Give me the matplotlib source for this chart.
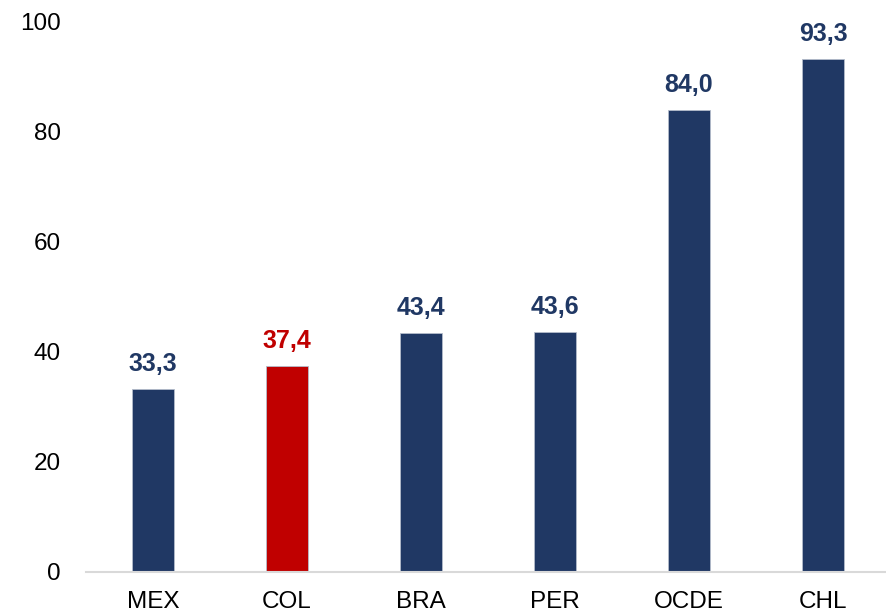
import matplotlib
matplotlib.use("Agg")
import matplotlib.pyplot as plt

categories = ["MEX", "COL", "BRA", "PER", "OCDE", "CHL"]
values = [33.3, 37.4, 43.4, 43.6, 84.0, 93.3]
labels = ["33,3", "37,4", "43,4", "43,6", "84,0", "93,3"]
navy = "#203864"
red = "#C00000"
colors = [navy, red, navy, navy, navy, navy]
yticks = [0, 20, 40, 60, 80, 100]

plt.rcParams['font.family'] = ['Liberation Sans', 'DejaVu Sans']
fig = plt.figure(figsize=(8.86, 6.15), dpi=100)
ax = fig.add_axes([86/886, (615-572)/615, (890-86)/886, (572-22)/615])
x = range(len(categories))
bars = ax.bar(x, values, width=0.32, color=colors, edgecolor="#B4BCCB", linewidth=0.6)
for xi, v, lab, c in zip(x, values, labels, colors):
    ax.annotate(lab, (xi, v), xytext=(0, 9.5), textcoords="offset points",
                ha="center", va="bottom", fontsize=18, fontweight="bold", color=c)
ax.set_xlim(-0.5, len(categories) - 0.5)
ax.set_ylim(0, 100)
ax.set_yticks(yticks)
ax.set_yticklabels([str(t) for t in yticks], fontsize=17.5)
ax.set_xticks(list(x))
ax.set_xticklabels(categories, fontsize=17.5)
for s in ["top", "right", "left"]:
    ax.spines[s].set_visible(False)
ax.spines["bottom"].set_color("#D9D9D9")
ax.spines["bottom"].set_linewidth(1.5)
ax.tick_params(axis="both", length=0)
ax.tick_params(axis="y", pad=18)
ax.tick_params(axis="x", pad=14)
fig.savefig("out.png", dpi=100)
